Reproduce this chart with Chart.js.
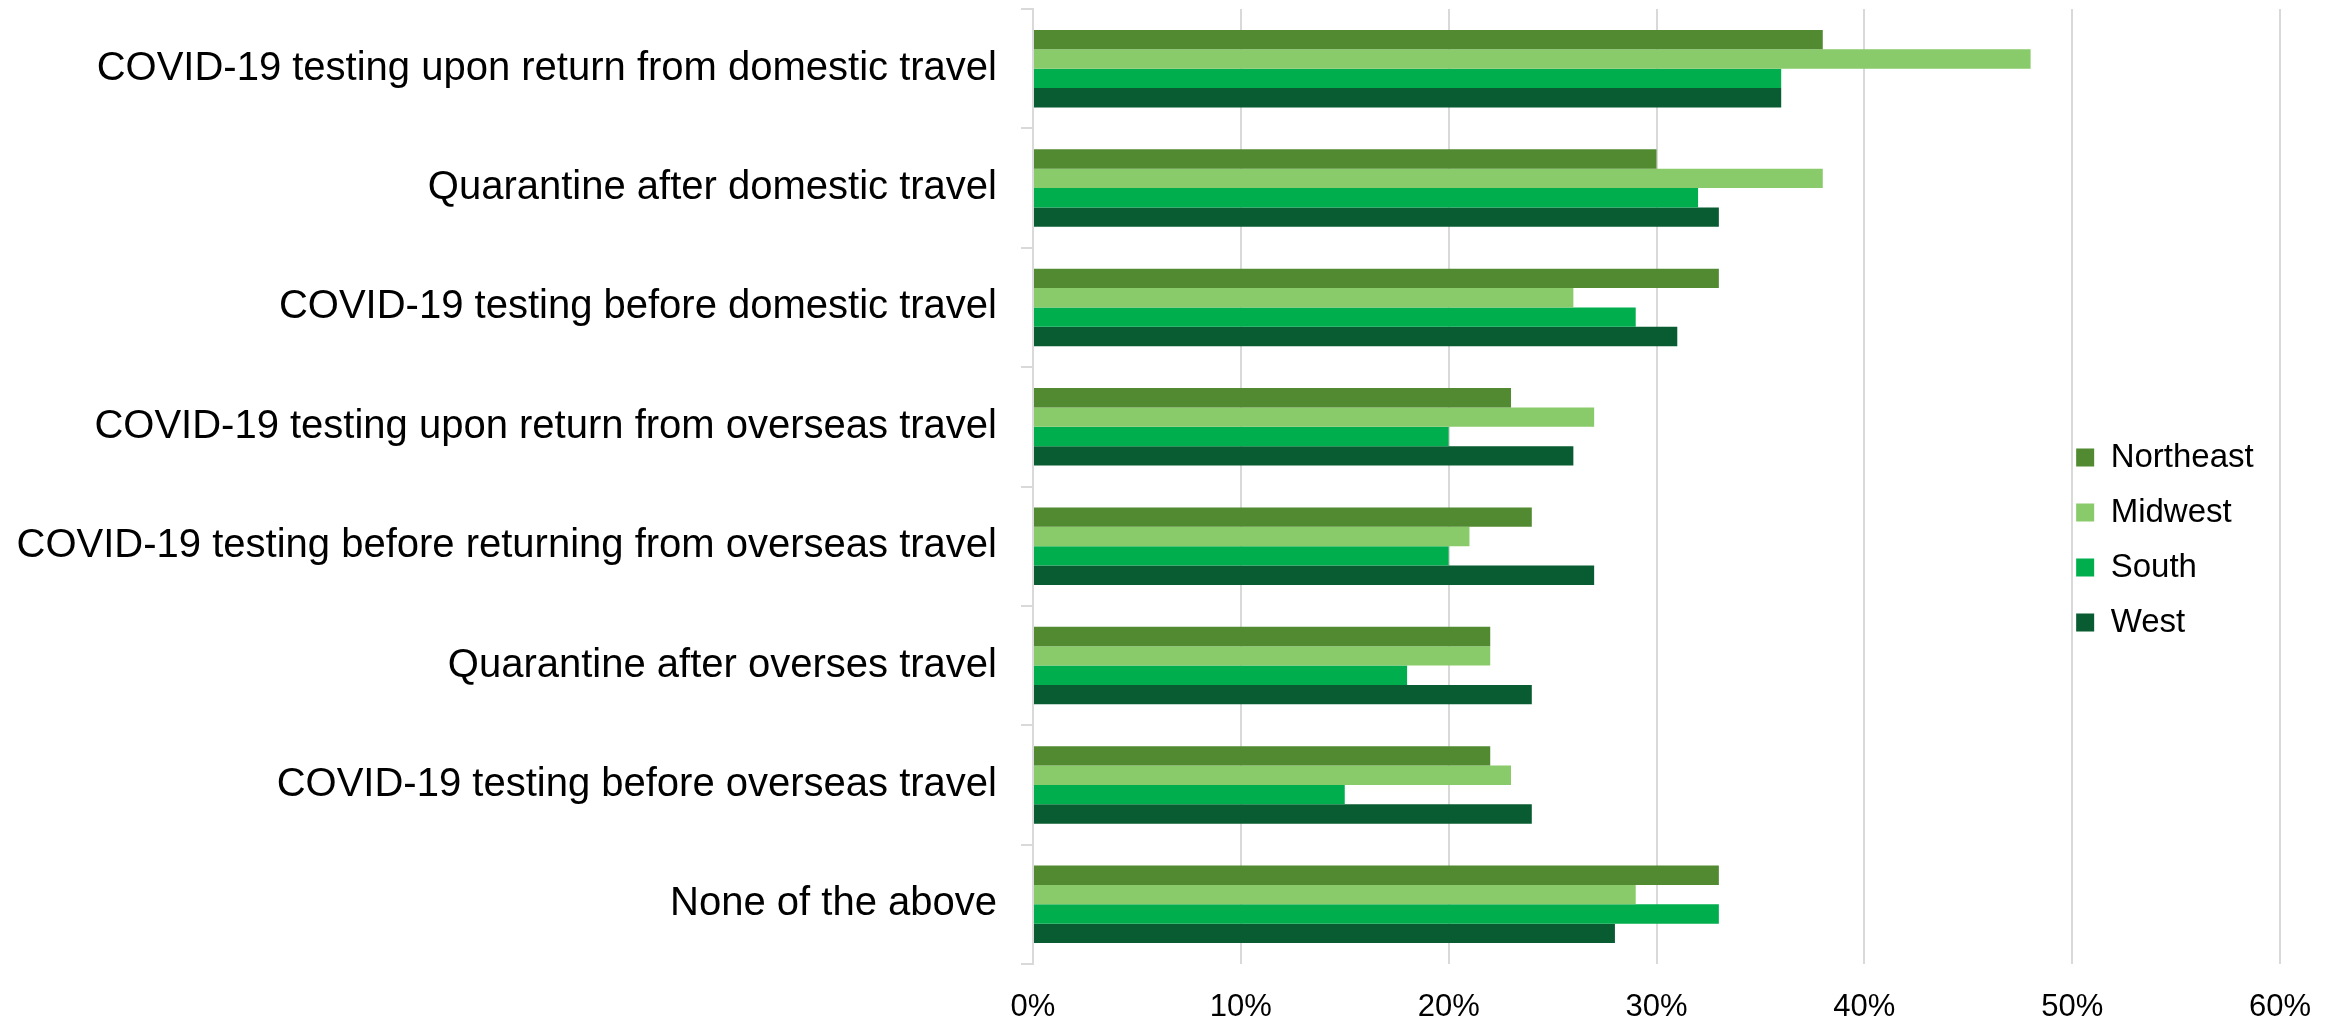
<!DOCTYPE html>
<html>
<head>
<meta charset="utf-8">
<script src="https://cdn.jsdelivr.net/npm/chart.js@4.4.1/dist/chart.umd.min.js"></script>
<style>
  html, body { margin: 0; padding: 0; background: #fff; }
  #wrap { width: 2341px; height: 1020px; position: relative; }
</style>
</head>
<body>
<div id="wrap"><canvas id="chart"></canvas></div>
<script>
// Categorias e percentuais por região
const categories = [
  "COVID-19 testing upon return from domestic travel",
  "Quarantine after domestic travel",
  "COVID-19 testing before domestic travel",
  "COVID-19 testing upon return from overseas travel",
  "COVID-19 testing before returning from overseas travel",
  "Quarantine after overses travel",
  "COVID-19 testing before overseas travel",
  "None of the above"
];

const northeast = [38, 30, 33, 23, 24, 22, 22, 33];
const midwest = [48, 38, 26, 27, 21, 22, 23, 29];
const south = [36, 32, 29, 20, 20, 18, 15, 33];
const west = [36, 33, 31, 26, 27, 24, 24, 28];

const seriesNames = ["Northeast", "Midwest", "South", "West"];
const xTicks = [0, 10, 20, 30, 40, 50, 60];

const COLORS = {
  northeast: "#518a31",
  midwest: "#89ca6a",
  south: "#00ae4e",
  west: "#095b31",
  grid: "#d9d9d9"
};

Chart.defaults.font.family = "'Liberation Sans', Arial, sans-serif";
Chart.defaults.color = "#000";

/** Move a legenda para dentro da área do gráfico, à direita */
const legendMover = {
  id: "legendMover",
  afterLayout(chart) {
    const lg = chart.legend;
    if (!lg || !lg.columnSizes || !lg.columnSizes.length) return;
    const pad = lg.options.labels.padding;
    const h = lg.columnSizes[0].height;
    const left = chart.scales.x.getPixelForValue(50) + 4 - pad;
    const top = 441 - pad;
    lg.left = left;
    lg.right = chart.width;
    lg.width = lg.right - lg.left;
    lg.top = top;
    lg.bottom = top + pad + h;
    lg.height = lg.bottom - lg.top;
  }
};

function makeDataset(label, data, color) {
  return {
    label,
    data,
    backgroundColor: color,
    borderWidth: 0,
    categoryPercentage: 0.65,
    barPercentage: 1.0
  };
}

new Chart(document.getElementById("chart"), {
  type: "bar",
  data: {
    labels: categories,
    datasets: [
      makeDataset(seriesNames[0], northeast, COLORS.northeast),
      makeDataset(seriesNames[1], midwest, COLORS.midwest),
      makeDataset(seriesNames[2], south, COLORS.south),
      makeDataset(seriesNames[3], west, COLORS.west)
    ]
  },
  options: {
    indexAxis: "y",
    responsive: true,
    maintainAspectRatio: false,
    animation: false,
    layout: { padding: { top: 9, right: 61, left: 0, bottom: 0 } },
    scales: {
      x: {
        min: xTicks[0],
        max: xTicks[xTicks.length - 1],
        afterBuildTicks(scale) {
          scale.ticks = xTicks.map((v) => ({ value: v }));
        },
        afterFit(scale) { scale.height = 56; },
        border: { display: false },
        grid: { color: COLORS.grid, lineWidth: 2, drawTicks: false },
        ticks: {
          padding: 25,
          font: { size: 31 },
          color: "#000",
          callback: (v) => v + "%"
        }
      },
      y: {
        afterFit(scale) {
          scale.width = 1033;
          scale.paddingTop = 0;
          scale.paddingBottom = 0;
        },
        border: { display: true, color: COLORS.grid, width: 2 },
        grid: {
          offset: true,
          drawOnChartArea: false,
          drawTicks: true,
          tickLength: 12,
          color: COLORS.grid,
          lineWidth: 2
        },
        ticks: {
          padding: 24,
          font: { size: 40 },
          color: "#000"
        }
      }
    },
    plugins: {
      legend: {
        position: "chartArea",
        labels: {
          boxWidth: 18,
          boxHeight: 18,
          padding: 22,
          color: "#000",
          font: { size: 33 }
        }
      },
      tooltip: { enabled: false }
    }
  },
  plugins: [legendMover]
});
</script>
</body>
</html>
